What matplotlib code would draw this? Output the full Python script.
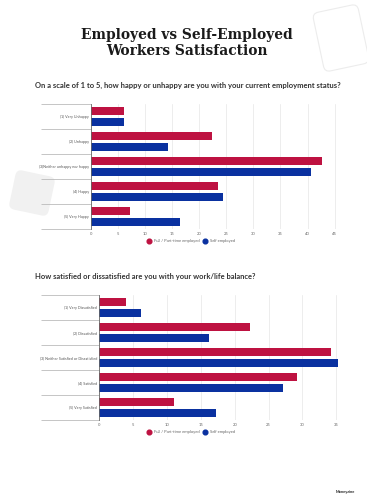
import matplotlib
matplotlib.use('Agg')
import matplotlib.pyplot as plt
from matplotlib.patches import FancyBboxPatch
from matplotlib.lines import Line2D
import matplotlib.transforms as mtransforms
import numpy as np

# ---- data ----
title = 'Employed vs Self-Employed\nWorkers Satisfaction'

q1 = 'On a scale of 1 to 5, how happy or unhappy are you with your current employment status?'
q1_labels = ['(1) Very Unhappy', '(2) Unhappy', '(3)Neither unhappy nor happy',
             '(4) Happy', '(5) Very Happy']
q1_employed = [6.1, 22.4, 42.6, 23.4, 7.2]
q1_self = [6.1, 14.3, 40.6, 24.4, 16.4]
q1_ticks = [0, 5, 10, 15, 20, 25, 30, 35, 40, 45]

q2 = 'How satisfied or dissatisfied are you with your work/life balance?'
q2_labels = ['(1) Very Dissatisfied', '(2) Dissatisfied',
             '(3) Neither Satisfied or Dissatisfied', '(4) Satisfied',
             '(5) Very Satisfied']
q2_employed = [4.0, 22.2, 34.2, 29.2, 11.1]
q2_self = [6.1, 16.2, 35.3, 27.2, 17.2]
q2_ticks = [0, 5, 10, 15, 20, 25, 30, 35]

series_names = ['Full / Part-time employed', 'Self employed']

RED = '#BE1241'
BLUE = '#0A31A0'
W, H = 367, 497
SANS = ['Lato', 'DejaVu Sans']

fig = plt.figure(figsize=(W / 100, H / 100), dpi=100)
fig.patch.set_facecolor('white')
renderer = fig.canvas.get_renderer()


def px_rect(x0, x1, y0, y1):
    return [x0 / W, 1 - y1 / H, (x1 - x0) / W, (y1 - y0) / H]


def fit_width(txt, target_px):
    # shrink/grow the font until the text is as wide as in the reference
    size = txt.get_fontsize()
    for _ in range(4):
        w = txt.get_window_extent(renderer).width
        size *= target_px / w
        txt.set_fontsize(size)


# decorative rounded squares
deco = fig.add_axes([0, 0, 1, 1], zorder=-5)
deco.set_xlim(0, W)
deco.set_ylim(H, 0)
deco.axis('off')
sq1 = FancyBboxPatch((318, 8), 46, 60, boxstyle='round,pad=0,rounding_size=6',
                     fc='white', ec='#ECECEC', lw=0.8)
sq1.set_transform(mtransforms.Affine2D().rotate_deg_around(341, 38, -12) + deco.transData)
deco.add_patch(sq1)
sq2 = FancyBboxPatch((12, 173), 40, 40, boxstyle='round,pad=0,rounding_size=6',
                     fc='#F1F1F1', ec='none')
sq2.set_transform(mtransforms.Affine2D().rotate_deg_around(32, 193, 12) + deco.transData)
deco.add_patch(sq2)

t = fig.text(187 / W, 1 - 43 / H, title, ha='center', va='center',
             family='DejaVu Serif', fontweight='semibold', fontsize=11,
             linespacing=1.22, color='#1A1A1A')
fig.text(345 / W, 1 - 492 / H, 'Moneyzine', ha='center', va='center',
         family=SANS, fontsize=2.8, fontweight='bold', color='#222222')


def draw_chart(rect, xmax, ticks, labels, emp, slf, question, qy, qw, legy, lab_w):
    ax = fig.add_axes(rect)
    y = np.arange(len(labels))
    ax.barh(y - 0.22, emp, height=0.33, color=RED, zorder=3)
    ax.barh(y + 0.22, slf, height=0.33, color=BLUE, zorder=3)
    ax.set_xlim(0, xmax)
    ax.set_ylim(len(labels) - 0.5, -0.5)
    ax.set_xticks(ticks)
    ax.set_xticklabels([str(v) for v in ticks], fontsize=3.0, color='#666666',
                       family=SANS)
    ax.tick_params(axis='x', length=0, pad=2)
    ax.set_yticks(y)
    ax.set_yticklabels(labels, fontsize=3.0, color='#555555', family=SANS)
    ax.tick_params(axis='y', which='major', length=0, pad=1.5)
    ax.set_yticks(np.arange(len(labels) + 1) - 0.5, minor=True)
    ax.tick_params(axis='y', which='minor', length=(rect[0] * W - 41) * 0.72,
                   width=0.6, color='#BBBBBB')
    ax.grid(axis='x', color='#E6E6E6', lw=0.5, zorder=0)
    for s in ['top', 'right', 'bottom']:
        ax.spines[s].set_visible(False)
    ax.spines['left'].set_color('#666666')
    ax.spines['left'].set_linewidth(0.6)
    ax.spines['left'].set_zorder(4)

    # match longest category label width to the reference
    longest = max(ax.get_yticklabels(), key=lambda l: len(l.get_text()))
    w = longest.get_window_extent(renderer).width
    sz = 3.0 * lab_w / w
    for l in ax.get_yticklabels():
        l.set_fontsize(sz)

    q = fig.text(35 / W, 1 - qy / H, question, ha='left', va='center',
                 family=SANS, fontweight='bold', fontsize=6.0, color='#333333')
    fit_width(q, qw)
    handles = [Line2D([], [], marker='o', ls='', color=RED, markersize=3.4),
               Line2D([], [], marker='o', ls='', color=BLUE, markersize=3.4)]
    fig.legend(handles, series_names, loc='center', bbox_to_anchor=(191 / W, 1 - legy / H),
               ncol=2, frameon=False, prop={'family': SANS, 'size': 3.0},
               handletextpad=0.5, columnspacing=1.0, labelcolor='#666666',
               handlelength=1.0)
    return ax


draw_chart(px_rect(91, 340, 104, 229), 46, q1_ticks, q1_labels,
           q1_employed, q1_self, q1, 85, 306, 241, 48)
draw_chart(px_rect(99.3, 340.3, 295, 420), 35.6, q2_ticks, q2_labels,
           q2_employed, q2_self, q2, 277, 219, 432, 56)

# title width ~212 px for the first line in the reference
fit_width(t, 212)

fig.savefig('out.png', dpi=100, facecolor='white')
